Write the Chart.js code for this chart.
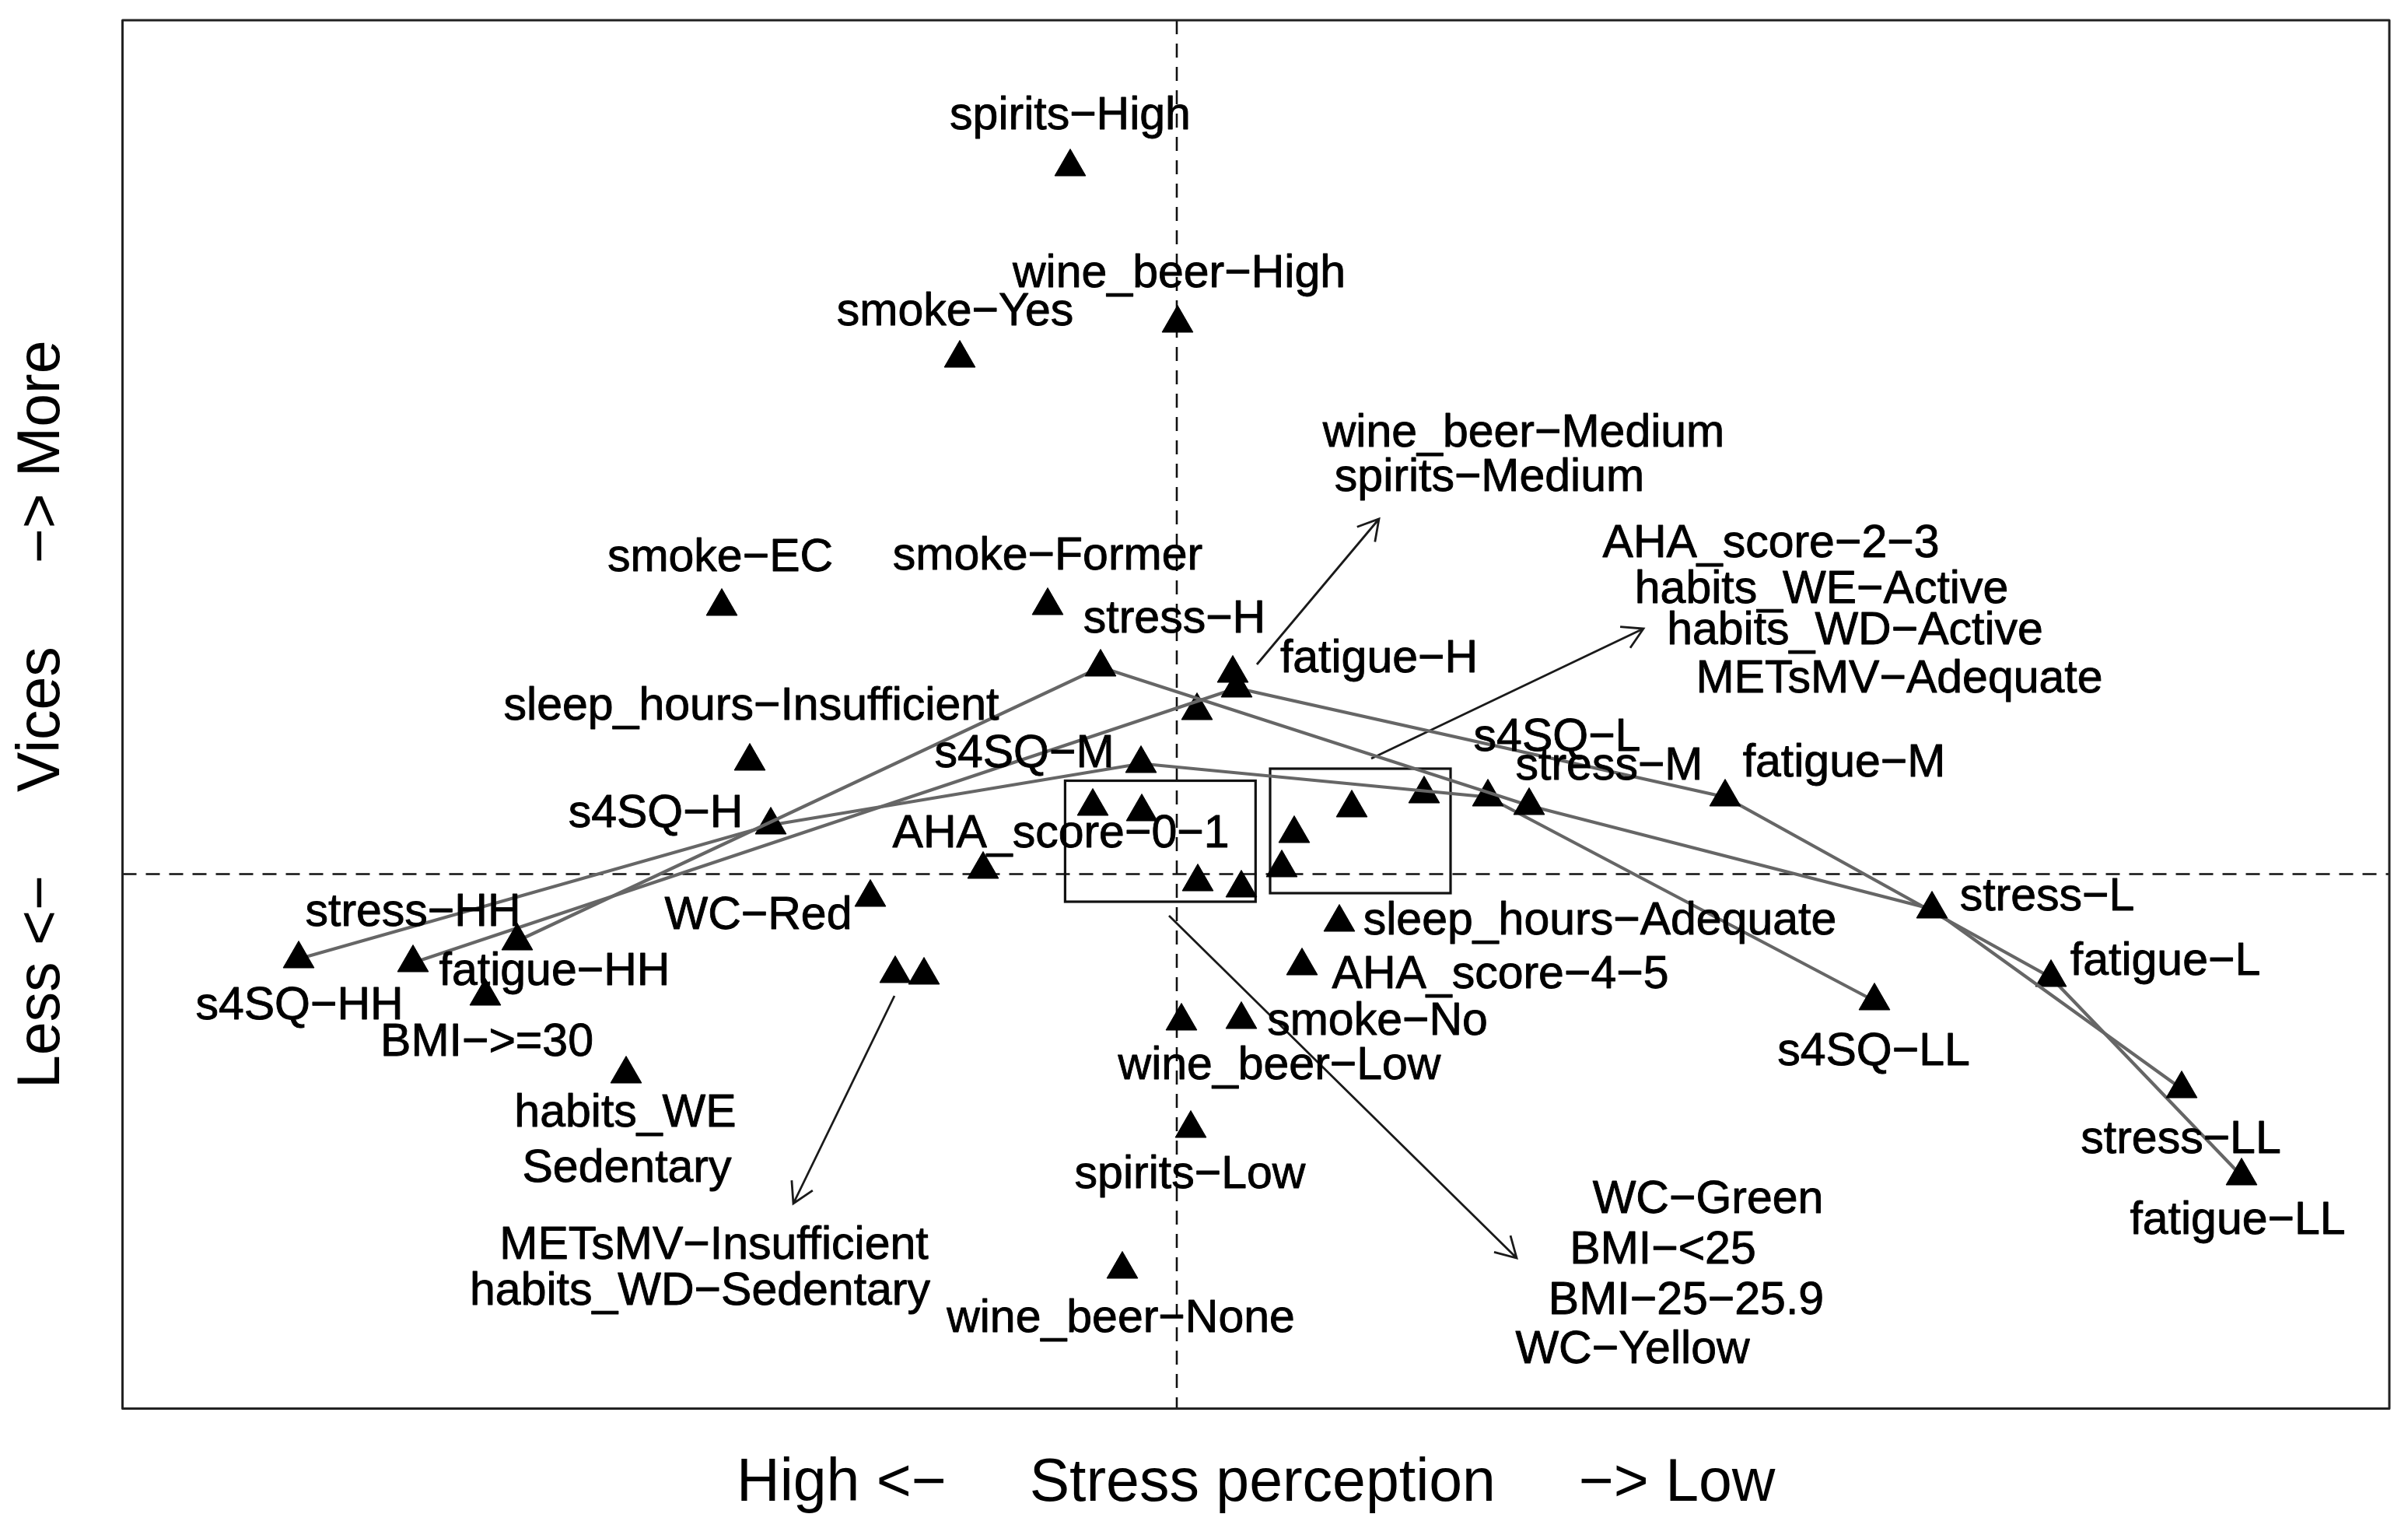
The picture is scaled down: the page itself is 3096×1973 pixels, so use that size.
<!DOCTYPE html>
<html>
<head>
<meta charset="utf-8">
<script src="https://cdn.jsdelivr.net/npm/chart.js@4.4.1/dist/chart.umd.min.js"></script>
<style>
html,body{margin:0;padding:0;background:#ffffff;}
#wrap{width:3096px;height:1973px;position:relative;}
</style>
</head>
<body>
<div id="wrap"><canvas id="c"></canvas></div>
<script>
// ---------------- DATA (MCA coordinates, dim1 = stress perception, dim2 = vices) ----------------
const levels = ['HH', 'H', 'M', 'L', 'LL'];

const stressX  = [-0.848, -0.098, 0.453, 0.971, 1.292];
const stressY  = [-0.086,  0.266, 0.088, -0.045, -0.276];

const fatigueX = [-0.982, 0.077, 0.705, 1.124, 1.369];
const fatigueY = [-0.114, 0.239, 0.099, -0.133, -0.388];

const s4sqX    = [-1.129, -0.522, -0.046, 0.400, 0.897];
const s4sqY    = [-0.109,  0.063,  0.142, 0.099, -0.163];

const otherNames = [
  'spirits-High', 'wine_beer-High', 'smoke-Yes', 'smoke-EC', 'smoke-Former',
  'wine_beer-Medium', 'spirits-Medium', 'sleep_hours-Insufficient',
  'WC-Green', 'BMI-<25', 'BMI-25-25.9', 'WC-Yellow',
  'AHA_score-2-3', 'habits_WE-Active', 'habits_WD-Active', 'METsMV-Adequate',
  'AHA_score-0-1', 'WC-Red', 'METsMV-Insufficient', 'habits_WD-Sedentary',
  'sleep_hours-Adequate', 'AHA_score-4-5', 'wine_beer-Low', 'smoke-No',
  'spirits-Low', 'wine_beer-None', 'BMI->=30', 'habits_WE-Sedentary'
];
const otherX = [
  -0.137, 0.001, -0.279, -0.585, -0.166,
   0.072, 0.026, -0.549,
  -0.108, -0.045, 0.027, 0.083,
   0.151, 0.135, 0.225, 0.318,
  -0.249, -0.394, -0.362, -0.325,
   0.209, 0.161, 0.006, 0.083,
   0.018, -0.070, -0.889, -0.708
];
const otherY = [
   0.909, 0.708, 0.663, 0.344, 0.345,
   0.258, 0.210, 0.145,
   0.087, 0.080, -0.010, -0.018,
   0.052, 0.008, 0.085, 0.103,
   0.006, -0.030, -0.128, -0.130,
  -0.062, -0.118, -0.189, -0.187,
  -0.327, -0.508, -0.157, -0.257
];

const xTitle = 'High <-     Stress perception     -> Low';
const yTitle = 'Less <-     Vices     -> More';

// ---------------- ANNOTATION LAYOUT (data coordinates) ----------------
const labelLayout = [
  ['spirits-High', -0.137, 0.979],
  ['wine_beer-High', 0.003, 0.776],
  ['smoke-Yes', -0.285, 0.727],
  ['wine_beer-Medium', 0.446, 0.571],
  ['spirits-Medium', 0.402, 0.514],
  ['AHA_score-2-3', 0.764, 0.429],
  ['habits_WE-Active', 0.829, 0.370],
  ['habits_WD-Active', 0.872, 0.317],
  ['METsMV-Adequate', 0.929, 0.255],
  ['smoke-EC', -0.587, 0.411],
  ['smoke-Former', -0.166, 0.413],
  ['stress-H', -0.003, 0.332],
  ['fatigue-H', 0.260, 0.281],
  ['sleep_hours-Insufficient', -0.547, 0.220],
  ['s4SQ-M', -0.196, 0.159],
  ['s4SQ-L', 0.489, 0.180],
  ['stress-M', 0.556, 0.143],
  ['fatigue-M', 0.858, 0.147],
  ['s4SQ-H', -0.670, 0.082],
  ['AHA_score-0-1', -0.149, 0.056],
  ['stress-HH', -0.982, -0.045],
  ['WC-Red', -0.538, -0.049],
  ['stress-L', 1.119, -0.025],
  ['sleep_hours-Adequate', 0.544, -0.056],
  ['fatigue-HH', -0.800, -0.121],
  ['AHA_score-4-5', 0.416, -0.125],
  ['fatigue-L', 1.271, -0.108],
  ['s4SQ-HH', -1.128, -0.165],
  ['smoke-No', 0.258, -0.185],
  ['BMI->=30', -0.887, -0.212],
  ['wine_beer-Low', 0.132, -0.242],
  ['s4SQ-LL', 0.896, -0.224],
  ['habits_WE', -0.709, -0.303],
  ['Sedentary', -0.707, -0.374],
  ['stress-LL', 1.291, -0.337],
  ['spirits-Low', 0.017, -0.382],
  ['WC-Green', 0.683, -0.414],
  ['fatigue-LL', 1.364, -0.441],
  ['METsMV-Insufficient', -0.595, -0.473],
  ['BMI-<25', 0.625, -0.479],
  ['habits_WD-Sedentary', -0.613, -0.532],
  ['BMI-25-25.9', 0.655, -0.544],
  ['wine_beer-None', -0.072, -0.567],
  ['WC-Yellow', 0.586, -0.607]
];
const groupBoxes = [
  [-0.1436, 0.1013, -0.0355, 0.1200],
  [ 0.1200, 0.3520, -0.0245, 0.1355]
];
const arrowLayout = [
  [ 0.103,  0.2695, 0.260,  0.4565],
  [ 0.250,  0.1485, 0.600,  0.3155],
  [-0.010, -0.0535, 0.437, -0.4935],
  [-0.363, -0.1565, -0.493, -0.4235]
];
const xRange = [-1.3555, 1.559];
const yRange = [-0.687, 1.0975];

// ---------------- CHART ----------------
const MINUS = '\u2212';
const show = s => s.replace(/-/g, MINUS);
const pts = (xs, ys) => xs.map((x, i) => ({x: x, y: ys[i]}));
const LINE_COLOR = '#666666';
const FONT = '"Liberation Sans", Arial, Helvetica, sans-serif';
const LABEL_SHIFT = 5;

const seriesStyle = {
  showLine: true,
  borderColor: LINE_COLOR,
  borderWidth: 4.2,
  pointStyle: 'triangle',
  pointRadius: 23,
  pointHoverRadius: 23,
  pointBackgroundColor: '#000',
  pointBorderColor: '#000',
  pointBorderWidth: 1,
  tension: 0
};

const annotate = {
  id: 'annotate',
  beforeDatasetsDraw(chart) {
    const {ctx, chartArea: a, scales: {x, y}} = chart;
    ctx.save();
    // reference dashed lines at origin
    ctx.strokeStyle = '#111';
    ctx.lineWidth = 2.6;
    ctx.setLineDash([18, 12]);
    ctx.beginPath();
    ctx.moveTo(x.getPixelForValue(0), a.top);
    ctx.lineTo(x.getPixelForValue(0), a.bottom);
    ctx.moveTo(a.left, y.getPixelForValue(0));
    ctx.lineTo(a.right, y.getPixelForValue(0));
    ctx.stroke();
    ctx.setLineDash([]);
    // group rectangles
    ctx.lineWidth = 3.2;
    ctx.strokeStyle = '#111';
    groupBoxes.forEach(b => {
      const x0 = x.getPixelForValue(b[0]), x1 = x.getPixelForValue(b[1]);
      const y0 = y.getPixelForValue(b[2]), y1 = y.getPixelForValue(b[3]);
      ctx.strokeRect(x0, y1, x1 - x0, y0 - y1);
    });
    // arrows
    ctx.lineWidth = 2.8;
    ctx.strokeStyle = '#1a1a1a';
    arrowLayout.forEach(r => {
      const x0 = x.getPixelForValue(r[0]), y0 = y.getPixelForValue(r[1]);
      const x1 = x.getPixelForValue(r[2]), y1 = y.getPixelForValue(r[3]);
      const ang = Math.atan2(y1 - y0, x1 - x0);
      const L = 30, h = Math.PI / 6;
      ctx.beginPath();
      ctx.moveTo(x0, y0);
      ctx.lineTo(x1, y1);
      ctx.moveTo(x1 - L * Math.cos(ang - h), y1 - L * Math.sin(ang - h));
      ctx.lineTo(x1, y1);
      ctx.lineTo(x1 - L * Math.cos(ang + h), y1 - L * Math.sin(ang + h));
      ctx.stroke();
    });
    ctx.restore();
  },
  afterDatasetsDraw(chart) {
    const {ctx, chartArea: a, scales: {x, y}} = chart;
    ctx.save();
    ctx.fillStyle = '#000';
    ctx.strokeStyle = '#000';
    ctx.lineWidth = 0.9;
    ctx.lineJoin = 'round';
    ctx.font = '59px ' + FONT;
    ctx.textAlign = 'center';
    ctx.textBaseline = 'middle';
    labelLayout.forEach(l => {
      const px = x.getPixelForValue(l[1]), py = y.getPixelForValue(l[2]) + LABEL_SHIFT;
      ctx.fillText(show(l[0]), px, py);
      ctx.strokeText(show(l[0]), px, py);
    });
    // plot frame
    ctx.strokeStyle = '#222';
    ctx.lineWidth = 3;
    ctx.strokeRect(a.left, a.top, a.right - a.left, a.bottom - a.top);
    ctx.restore();
  }
};

new Chart(document.getElementById('c'), {
  type: 'scatter',
  data: {
    datasets: [
      Object.assign({label: 'stress', data: pts(stressX, stressY)}, seriesStyle),
      Object.assign({label: 'fatigue', data: pts(fatigueX, fatigueY)}, seriesStyle),
      Object.assign({label: 's4SQ', data: pts(s4sqX, s4sqY)}, seriesStyle),
      {
        label: 'other categories',
        data: pts(otherX, otherY),
        showLine: false,
        pointStyle: 'triangle',
        pointRadius: 23,
        pointHoverRadius: 23,
        pointBackgroundColor: '#000',
        pointBorderColor: '#000',
        pointBorderWidth: 1
      }
    ]
  },
  options: {
    responsive: true,
    maintainAspectRatio: false,
    devicePixelRatio: 1,
    animation: false,
    events: [],
    layout: {padding: {top: 26, right: 24, left: 0, bottom: 0}},
    plugins: {legend: {display: false}, tooltip: {enabled: false}, title: {display: false}},
    scales: {
      x: {
        type: 'linear', position: 'bottom', min: xRange[0], max: xRange[1],
        ticks: {display: false},
        grid: {display: false, drawTicks: false},
        border: {display: false},
        title: {display: true, text: show(xTitle), color: '#000',
                font: {family: FONT, size: 77, lineHeight: 1.2},
                padding: {top: 51.1, bottom: 19.0}}
      },
      y: {
        type: 'linear', position: 'left', min: yRange[0], max: yRange[1],
        ticks: {display: false},
        grid: {display: false, drawTicks: false},
        border: {display: false},
        title: {display: true, text: show(yTitle), color: '#000',
                font: {family: FONT, size: 77, lineHeight: 1.2},
                padding: {top: 8.8, bottom: 56.3}}
      }
    }
  },
  plugins: [annotate]
});
</script>
</body>
</html>
